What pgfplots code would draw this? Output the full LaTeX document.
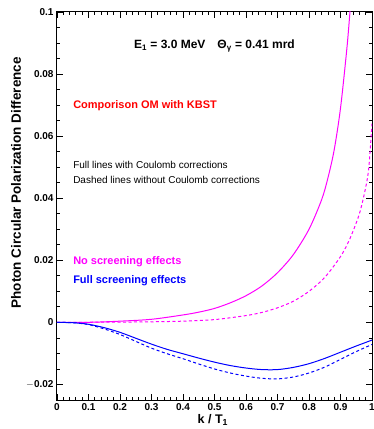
\documentclass[border=0pt]{standalone}
\usepackage{fontspec}
\setmainfont{Liberation Sans}
\usepackage{pgfplots}
\pgfplotsset{compat=1.18}
\definecolor{mag}{RGB}{255,0,255}
\definecolor{blu}{RGB}{0,0,255}
\definecolor{rd}{RGB}{255,0,0}
\begin{document}
\begin{tikzpicture}[x=1pt,y=1pt]
\begin{axis}[
  at={(0,0)}, anchor=south west,
  scale only axis, width=315pt, height=388pt,
  xmin=0, xmax=1, ymin=-0.025, ymax=0.1,
  xtick={0,0.1,...,1.0},
  xticklabels={0,0.1,0.2,0.3,0.4,0.5,0.6,0.7,0.8,0.9,1},
  ytick={-0.02,0,0.02,0.04,0.06,0.08,0.1},
  yticklabels={$-$0.02,0,0.02,0.04,0.06,0.08,0.1},
  minor x tick num=4, minor y tick num=3,
  tick align=inside, tick pos=both,
  major tick length=6pt, minor tick length=3pt,
  every tick/.style={black, line width=0.8pt},
  axis line style={line width=1pt},
  /pgf/number format/assume math mode=true,
  ticklabel style={font=\fontsize{10}{12}\selectfont\bfseries},
  scaled y ticks=false,
  xlabel={k / T\textsubscript{1}},
  ylabel={Photon Circular Polarization Difference},
  xlabel style={at={(axis description cs:0.495,-0.052)}, anchor=center, font=\fontsize{12.5}{14}\selectfont\bfseries},
  ylabel style={at={(axis description cs:-0.13,0.56)}, anchor=center, rotate=0, font=\fontsize{13.5}{15}\selectfont\bfseries},
  clip=true,
]
% magenta solid (no screening, with Coulomb)
\addplot[mag, line width=1pt, smooth] coordinates {
(0,0) (0.1,0.00002) (0.2,0.0004) (0.3,0.0010) (0.4,0.0024) (0.45,0.0033) (0.5,0.0045)
(0.55,0.0063) (0.6,0.0086) (0.65,0.0117) (0.7,0.0160) (0.75,0.0218) (0.8,0.0300)
(0.84,0.0395) (0.86,0.0465) (0.88,0.0556) (0.90,0.0690)
(0.92,0.0880) (0.93,0.1000) (0.935,0.107)};
% magenta dashed (no screening, without Coulomb)
\addplot[mag, line width=1pt, smooth, dash pattern=on 3pt off 2.5pt] coordinates {
(0,0) (0.2,0.0001) (0.3,0.0002) (0.4,0.0004) (0.5,0.0009)
(0.6,0.0022) (0.65,0.0032) (0.7,0.0047) (0.75,0.0068) (0.8,0.0100) (0.85,0.0145)
(0.9,0.0212) (0.93,0.0270) (0.96,0.0350) (0.98,0.0435) (0.99,0.0500) (1.0,0.0640)};
% blue solid (full screening, with Coulomb)
\addplot[blu, line width=1pt, smooth] coordinates {
(0,0) (0.05,-0.0001) (0.1,-0.0006) (0.15,-0.0017) (0.2,-0.0032) (0.25,-0.0051)
(0.3,-0.0070) (0.35,-0.0087) (0.4,-0.0101) (0.45,-0.0115) (0.5,-0.0128) (0.55,-0.0139)
(0.6,-0.0147) (0.65,-0.0152) (0.7,-0.0152) (0.75,-0.0145) (0.8,-0.0133) (0.85,-0.0116)
(0.9,-0.0096) (0.95,-0.0076) (1.0,-0.0057)};
% blue dashed (full screening, without Coulomb)
\addplot[blu, line width=1pt, smooth, dash pattern=on 3pt off 2.5pt] coordinates {
(0,0) (0.05,-0.0001) (0.1,-0.0007) (0.15,-0.0021) (0.2,-0.0039) (0.25,-0.0061)
(0.3,-0.0083) (0.35,-0.0101) (0.4,-0.0117) (0.45,-0.0134) (0.5,-0.0150) (0.55,-0.0163)
(0.6,-0.0173) (0.65,-0.0180) (0.7,-0.0182) (0.75,-0.0176) (0.8,-0.0163) (0.85,-0.0144)
(0.9,-0.0119) (0.95,-0.0094) (1.0,-0.0071)};
\node[font=\fontsize{12}{14}\selectfont\bfseries] at (axis cs:0.5,0.0891)
  {E\textsubscript{1} = 3.0 MeV\quad Θ\textsubscript{γ} = 0.41 mrd};
\node[anchor=west, inner sep=0pt, text=rd, font=\fontsize{11}{13}\selectfont\bfseries] at (axis cs:0.051,0.0698) {Comporison OM with KBST};
\node[anchor=west, inner sep=0pt, font=\fontsize{10}{12}\selectfont] at (axis cs:0.051,0.0508) {Full lines with Coulomb corrections};
\node[anchor=west, inner sep=0pt, font=\fontsize{10}{12}\selectfont] at (axis cs:0.051,0.0460) {Dashed lines without Coulomb corrections};
\node[anchor=west, inner sep=0pt, text=mag, font=\fontsize{11}{13}\selectfont\bfseries] at (axis cs:0.051,0.0196) {No screening effects};
\node[anchor=west, inner sep=0pt, text=blu, font=\fontsize{11}{13}\selectfont\bfseries] at (axis cs:0.051,0.0135) {Full screening effects};
\end{axis}
\pgfresetboundingbox
\path[use as bounding box] (-57pt,-29pt) rectangle (316pt,400pt);
\end{tikzpicture}
\end{document}
